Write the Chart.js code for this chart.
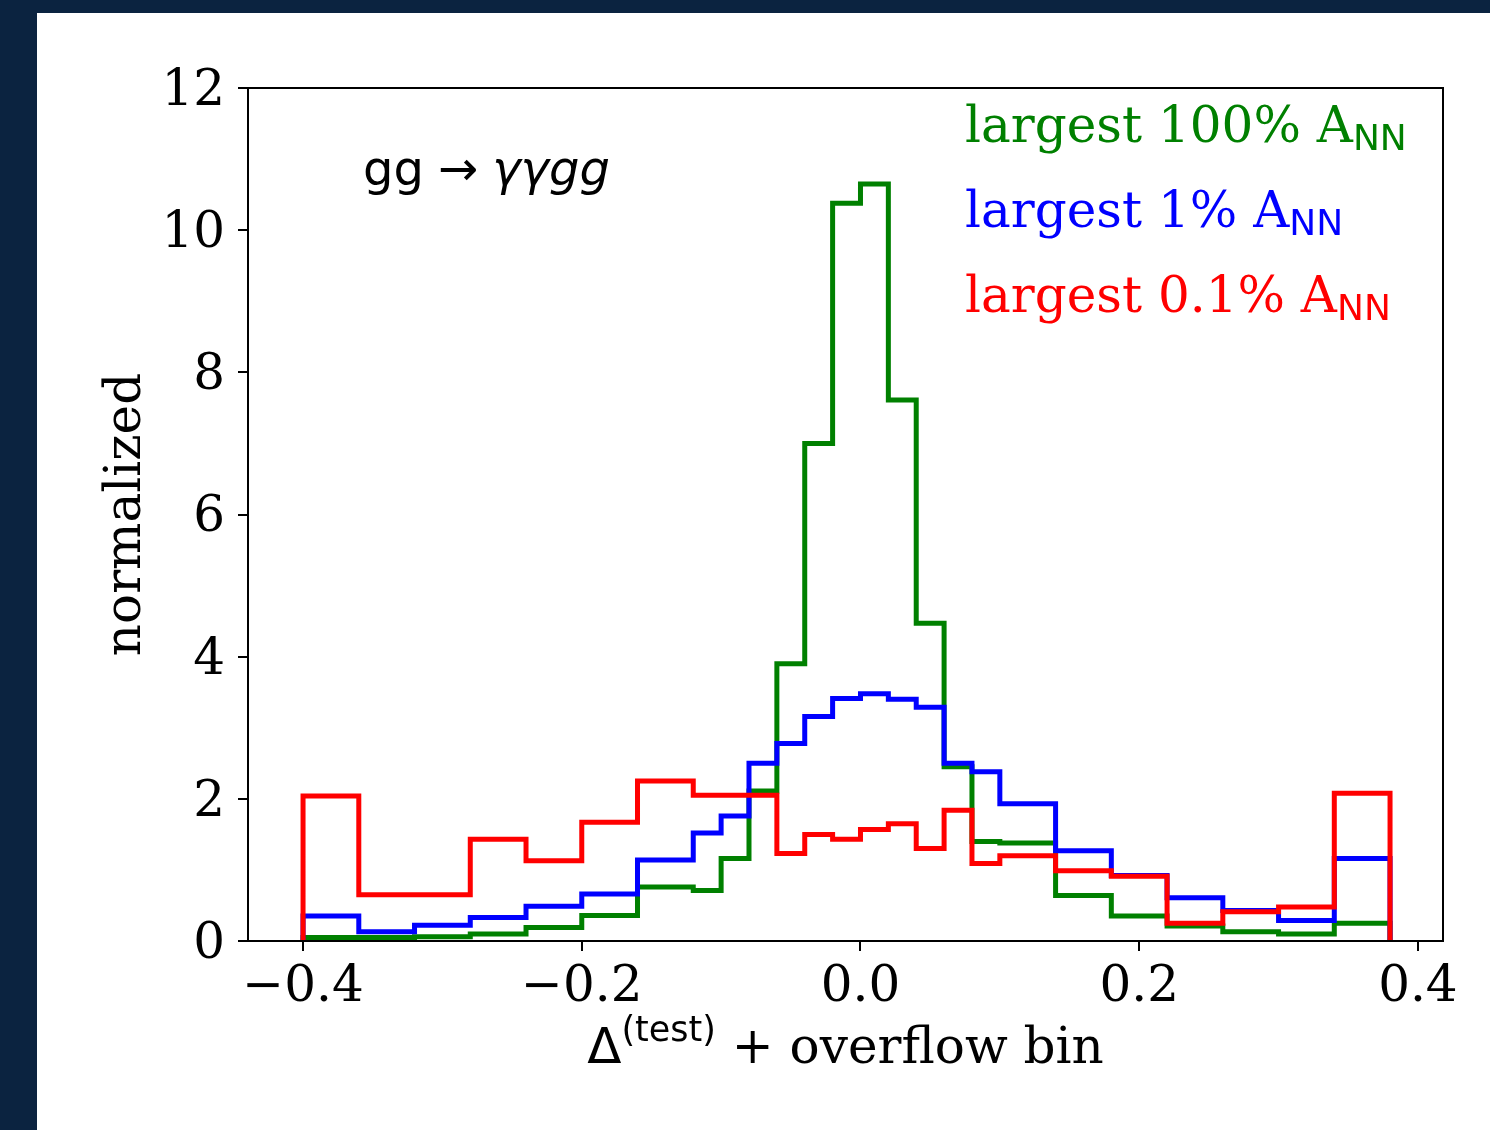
<!DOCTYPE html>
<html>
<head>
<meta charset="utf-8">
<script src="https://cdn.jsdelivr.net/npm/chart.js@4.4.1/dist/chart.umd.min.js"></script>
<style>
  html, body { margin: 0; padding: 0; background: #0b2340; }
  #wrap { position: absolute; left: 37px; top: 13px; width: 1453px; height: 1117px; background: #fff; }
</style>
</head>
<body>
<div id="wrap"><canvas id="chart" width="1453" height="1117"></canvas></div>
<script>
// bin edges (variable width: 0.04 outside, 0.02 near the peak)
const binEdges = [-0.40, -0.36, -0.32, -0.28, -0.24, -0.20, -0.16,
  -0.12, -0.10, -0.08, -0.06, -0.04, -0.02, 0.00, 0.02, 0.04, 0.06, 0.08,
  0.10, 0.14, 0.18, 0.22, 0.26, 0.30, 0.34, 0.38]

const green100 = [0.05, 0.05, 0.06, 0.10, 0.19, 0.36, 0.76,
  0.71, 1.16, 2.11, 3.90, 7.00, 10.38, 10.65, 7.61, 4.47, 2.45, 1.40,
  1.38, 0.64, 0.35, 0.21, 0.13, 0.10, 0.25]
const blue1 = [0.35, 0.13, 0.22, 0.33, 0.49, 0.66, 1.14,
  1.52, 1.76, 2.50, 2.78, 3.16, 3.41, 3.48, 3.40, 3.29, 2.50, 2.38,
  1.93, 1.27, 0.92, 0.61, 0.43, 0.29, 1.16]
const red01 = [2.04, 0.65, 0.65, 1.43, 1.13, 1.67, 2.25,
  2.05, 2.05, 2.05, 1.23, 1.50, 1.43, 1.57, 1.65, 1.30, 1.84, 1.09,
  1.20, 0.99, 0.91, 0.25, 0.41, 0.48, 2.08]

const xTickValues = [-0.4, -0.2, 0.0, 0.2, 0.4]
const legendLabels = ['largest 100% A', 'largest 1% A', 'largest 0.1% A']
const legendColors = ['#008000', '#0000ff', '#ff0000']

const SERIF = "'DejaVu Serif', serif"
const SANS = "'DejaVu Sans', sans-serif"

// step outline like matplotlib histtype='step'
function histPoints(values) {
  const n = values.length
  const pts = [{ x: binEdges[0], y: 0 }]
  values.forEach((v, i) => pts.push({ x: binEdges[i], y: v }))
  pts.push({ x: binEdges[n], y: values[n - 1] })
  pts.push({ x: binEdges[n], y: 0 })
  return pts
}

function stepSet(values, color, order) {
  return {
    data: histPoints(values),
    borderColor: color,
    borderWidth: 5,
    stepped: true,
    pointRadius: 0,
    fill: false,
    borderJoinStyle: 'miter',
    order
  }
}

const framePlugin = {
  id: 'frame',
  afterDatasetsDraw(chart) {
    const { ctx, chartArea: a } = chart
    ctx.save()
    ctx.strokeStyle = '#000'
    ctx.lineWidth = 2
    ctx.strokeRect(a.left, a.top, a.right - a.left, a.bottom - a.top)
    ctx.restore()
  }
}

const textPlugin = {
  id: 'texts',
  afterDraw(chart) {
    const { ctx, chartArea: a } = chart
    ctx.save()
    ctx.textBaseline = 'alphabetic'
    ctx.textAlign = 'left'

    // process label
    let x = a.left + 115
    const yb = a.top + 97
    ctx.fillStyle = '#000'
    ctx.font = '48px ' + SANS
    ctx.fillText('gg', x, yb)
    x += ctx.measureText('gg').width + 14
    ctx.fillText('→', x, yb)
    x += ctx.measureText('→').width + 14
    ctx.font = 'oblique 48px ' + SANS
    ctx.fillText('γγgg', x, yb)

    // legend
    legendLabels.forEach((lab, i) => {
      const bx = a.left + 717
      const by = a.top + 54 + i * 85
      ctx.fillStyle = legendColors[i]
      ctx.font = '50px ' + SERIF
      ctx.fillText(lab, bx, by)
      const w = ctx.measureText(lab).width
      ctx.font = '36px ' + SANS
      ctx.fillText('NN', bx + w, by + 8)
    })

    // x title
    ctx.fillStyle = '#000'
    const parts = [
      { t: 'Δ', f: '50px ' + SANS, dy: 0 },
      { t: '(test)', f: '35px ' + SANS, dy: -22 },
      { t: ' + overflow bin', f: '50px ' + SERIF, dy: 0 }
    ]
    let total = 0
    parts.forEach(p => { ctx.font = p.f; p.w = ctx.measureText(p.t).width; total += p.w })
    x = (a.left + a.right) / 2 - total / 2
    parts.forEach(p => {
      ctx.font = p.f
      ctx.fillText(p.t, x, 1050 + p.dy)
      x += p.w
    })

    // y title
    ctx.translate(90, (a.top + a.bottom) / 2)
    ctx.rotate(-Math.PI / 2)
    ctx.textAlign = 'center'
    ctx.textBaseline = 'middle'
    ctx.font = '50px ' + SERIF
    ctx.fillText('normalized', 0, 0)
    ctx.restore()
  }
}

const tickGrid = {
  display: true,
  drawOnChartArea: false,
  drawTicks: true,
  tickLength: 10,
  tickWidth: 2,
  tickColor: '#000',
  lineWidth: 2,
  color: '#000'
}

new Chart(document.getElementById('chart'), {
  type: 'line',
  data: {
    datasets: [
      stepSet(green100, '#008000', 3),
      stepSet(blue1, '#0000ff', 2),
      stepSet(red01, '#ff0000', 1)
    ]
  },
  options: {
    responsive: false,
    animation: false,
    layout: { padding: { left: 0, top: 75, right: 47, bottom: 0 } },
    scales: {
      x: {
        type: 'linear',
        min: -0.4395,
        max: 0.418,
        grid: tickGrid,
        border: { display: false },
        afterBuildTicks: scale => {
          scale.ticks = xTickValues.map(v => ({ value: v }))
        },
        afterFit: scale => { scale.height = 189 },
        ticks: {
          color: '#000',
          padding: 7,
          maxRotation: 0,
          font: { family: SERIF, size: 50 },
          callback: v => v.toFixed(1).replace('-', '−')
        }
      },
      y: {
        min: 0,
        max: 12,
        grid: tickGrid,
        border: { display: false },
        afterFit: scale => { scale.width = 211 },
        ticks: {
          stepSize: 2,
          color: '#000',
          padding: 13,
          labelOffset: 4,
          font: { family: SERIF, size: 50 },
          callback: v => String(v)
        }
      }
    },
    plugins: {
      legend: { display: false },
      tooltip: { enabled: false }
    }
  },
  plugins: [framePlugin, textPlugin]
})
</script>
</body>
</html>
